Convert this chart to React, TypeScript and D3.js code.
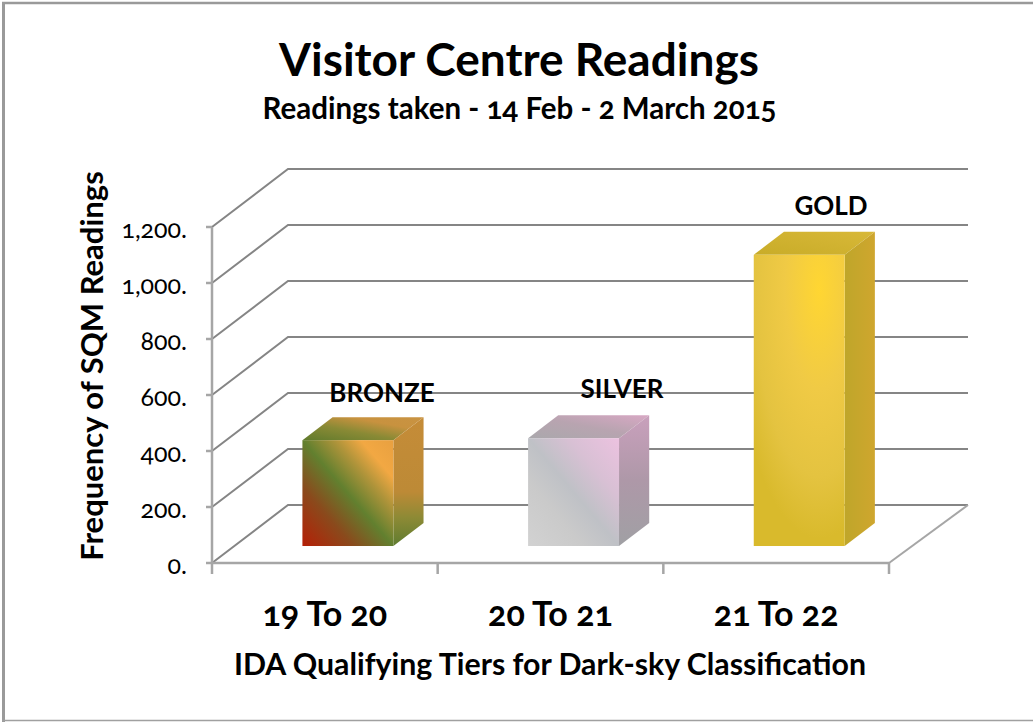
import React from "react";
import * as d3 from "d3";

const categories = ["19 To 20", "20 To 21", "21 To 22"];
const tierNames = ["BRONZE", "SILVER", "GOLD"];
const frequencies = [378, 385, 1040];
const yTicks = [0, 200, 400, 600, 800, 1000, 1200];

const W = 1033, H = 722;
const FONT = "Lato, 'Noto Sans', sans-serif";
const OLD: React.CSSProperties = { fontFeatureSettings: "'onum' 1", fontVariantNumeric: "oldstyle-nums" };

const y = d3.scaleLinear().domain([0, 1200]).range([563, 227]);
const x = d3.scaleBand<string>().domain(categories).range([212, 889]).paddingInner(0).paddingOuter(0);
// Oblique depth projection: depth 0 is the front, 1 is the back wall
const depthX = d3.scaleLinear().domain([0, 1]).range([0, 76]);
const depthY = d3.scaleLinear().domain([0, 1]).range([0, -58]);
const py = (v: number, depth: number) => y(v) + depthY(depth);
const backLeft = 288, backRight = 968;

const BAR_FRONT = 0.293, BAR_BACK = 0.69, BAR_L = 0.302, BAR_R = 0.705;
const GRID = "#858585";
const AXIS = "#a6a6a6";
const line = d3.line();
const poly = (pts: [number, number][]) => line(pts) + "Z";

function Stops({ s }: { s: [number, string][] }) {
  return <>{s.map(([o, c], i) => <stop key={i} offset={o} stopColor={c} />)}</>;
}

export default function App() {
  const x0 = 212, x1 = 889;
  return (
    <svg width={W} height={H} viewBox={`0 0 ${W} ${H}`} style={{ position: "absolute", left: 0, top: 0 }}>
      <defs>
        <linearGradient id="bf" x1="0" y1="1" x2="1" y2="0">
          <Stops s={[[0, "#b51f06"], [0.28, "#8a4a1c"], [0.5, "#62802f"], [0.68, "#b0943a"], [0.82, "#f2a843"], [1, "#e8a040"]]} />
        </linearGradient>
        <linearGradient id="bt" x1="0" y1="1" x2="1" y2="0">
          <Stops s={[[0, "#5f7a2c"], [0.4, "#8a8a35"], [0.7, "#c8923f"], [1, "#c99342"]]} />
        </linearGradient>
        <linearGradient id="bs" x1="0" y1="0" x2="0" y2="1">
          <Stops s={[[0, "#c58c38"], [0.58, "#bd8a36"], [0.78, "#8d8a35"], [1, "#5f7c30"]]} />
        </linearGradient>
        <linearGradient id="sf" x1="0" y1="1" x2="1" y2="0">
          <Stops s={[[0, "#d2d2d2"], [0.3, "#cacaca"], [0.5, "#bfc1c6"], [0.72, "#d8c0d4"], [1, "#ecc2e0"]]} />
        </linearGradient>
        <linearGradient id="st" x1="0" y1="1" x2="1" y2="0">
          <Stops s={[[0, "#aaa8ac"], [0.5, "#b8a4b0"], [1, "#d8a8c4"]]} />
        </linearGradient>
        <linearGradient id="ss" x1="0" y1="0" x2="0" y2="1">
          <Stops s={[[0, "#c9a0bc"], [0.5, "#ae98a8"], [1, "#a0a0a4"]]} />
        </linearGradient>
        <radialGradient id="gf" cx="0.72" cy="0.12" r="0.95" gradientTransform="translate(0.72 0.12) scale(1 0.9) translate(-0.72 -0.12)">
          <Stops s={[[0, "#ffd632"], [0.4, "#f0ca45"], [0.75, "#e4c340"], [1, "#d9ba2c"]]} />
        </radialGradient>
        <linearGradient id="gt" x1="0" y1="1" x2="1" y2="0">
          <Stops s={[[0, "#c8ac28"], [1, "#d8b838"]]} />
        </linearGradient>
        <linearGradient id="gs" x1="0" y1="0" x2="1" y2="0">
          <Stops s={[[0, "#bfa62a"], [1, "#cfa62e"]]} />
        </linearGradient>
      </defs>

      <rect width={W} height={H} fill="#fff" />
      {/* frame */}
      <line x1={3.5} y1={2} x2={3.5} y2={H} stroke="#9a9a9a" strokeWidth={3} />
      <line x1={2} y1={3} x2={W} y2={3} stroke="#9a9a9a" strokeWidth={2.5} />
      <line x1={2} y1={720.5} x2={W} y2={720.5} stroke="#a0a0a0" strokeWidth={1.5} />

      {/* gridlines: oblique side wall and back wall */}
      {yTicks.map((t) => (
        <path key={t} fill="none" stroke={GRID} strokeWidth={2}
          d={line([[x0, y(t)], [backLeft, py(t, 1)], [backRight, py(t, 1)]]) as string} />
      ))}
      {/* floor edge */}
      <path fill="none" stroke={AXIS} strokeWidth={2}
        d={line([[x1, y(0)], [backRight, py(0, 1)]]) as string} />

      {/* axes */}
      <line x1={x0} y1={y(1200)} x2={x0} y2={y(0)} stroke={AXIS} strokeWidth={2.5} />
      <line x1={x0} y1={y(0)} x2={x1} y2={y(0)} stroke={AXIS} strokeWidth={2.5} />
      {yTicks.map((t) => (
        <line key={t} x1={x0 - 6} y1={y(t)} x2={x0} y2={y(t)} stroke={AXIS} strokeWidth={2.5} />
      ))}
      {[x0, x0 + x.bandwidth(), x0 + 2 * x.bandwidth(), x1].map((v) => (
        <line key={v} x1={v} y1={y(0)} x2={v} y2={y(0) + 11} stroke={AXIS} strokeWidth={2.5} />
      ))}

      {/* bars */}
      {categories.map((c, i) => {
        const v = frequencies[i];
        const key = ["b", "s", "g"][i];
        const bandLeft = x(c) as number;
        const l = bandLeft + x.bandwidth() * BAR_L + depthX(BAR_FRONT);
        const r = bandLeft + x.bandwidth() * BAR_R + depthX(BAR_FRONT);
        const shift = depthX(BAR_BACK) - depthX(BAR_FRONT);
        const yb = py(0, BAR_FRONT), yt = py(v, BAR_FRONT);
        const d = depthY(BAR_BACK) - depthY(BAR_FRONT);
        return (
          <g key={c} stroke="none">
            <path d={poly([[l, yt], [r, yt], [r + shift, yt + d], [l + shift, yt + d]])} fill={`url(#${key}t)`} />
            <path d={poly([[r, yt], [r + shift, yt + d], [r + shift, yb + d], [r, yb]])} fill={`url(#${key}s)`} />
            <rect x={l} y={yt} width={r - l} height={yb - yt} fill={`url(#${key}f)`} />
          </g>
        );
      })}

      {/* bar tier labels */}
      <g fontFamily={FONT} fontWeight={700} fontSize={26} fill="#000" textAnchor="middle">
        <text x={382} y={402}>{tierNames[0]}</text>
        <text x={622} y={398}>{tierNames[1]}</text>
        <text x={831} y={215}>{tierNames[2]}</text>
      </g>

      {/* y tick labels */}
      <g fontFamily={FONT} fontSize={25} fill="#000" textAnchor="end" style={OLD}>
        {yTicks.map((t) => (
          <text key={t} x={187} y={y(t) + 11}>{d3.format(",")(t)}.</text>
        ))}
      </g>

      {/* x tick labels */}
      <g fontFamily={FONT} fontWeight={700} fontSize={34} fill="#000" textAnchor="middle" style={OLD}>
        {categories.map((c) => (
          <text key={c} x={(x(c) as number) + x.bandwidth() / 2} y={626}>{c}</text>
        ))}
      </g>

      {/* titles */}
      <text x={519} y={76} textAnchor="middle" fontFamily={FONT} fontWeight={700} fontSize={46} fill="#000">Visitor Centre Readings</text>
      <text x={519.5} y={119} textAnchor="middle" fontFamily={FONT} fontWeight={700} fontSize={29.5} fill="#000" style={OLD}>Readings taken - 14 Feb - 2 March 2015</text>
      <text x={550} y={675} textAnchor="middle" fontFamily={FONT} fontWeight={700} fontSize={30.3} fill="#000">IDA Qualifying Tiers for Dark-sky Classification</text>
      <text transform="translate(103,366) rotate(-90)" textAnchor="middle" fontFamily={FONT} fontWeight={700} fontSize={31} fill="#000">Frequency of SQM Readings</text>
    </svg>
  );
}
